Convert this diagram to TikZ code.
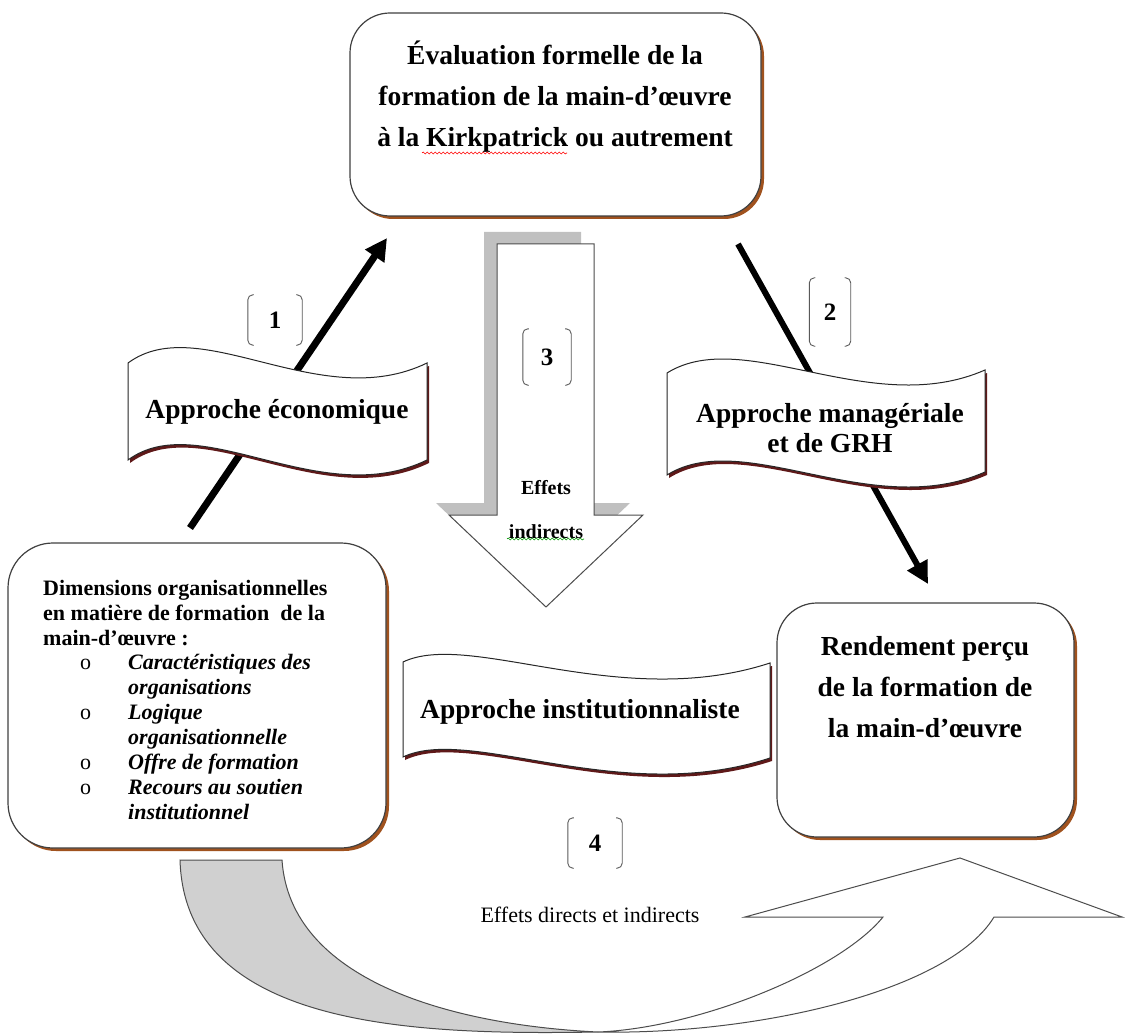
\documentclass[tikz,border=0pt]{standalone}
\usepackage{fontspec}
\setmainfont{Liberation Serif}
\usetikzlibrary{arrows.meta,positioning,shadows,decorations.pathmorphing}

\definecolor{boxshadow}{RGB}{160,82,30}
\definecolor{bannershadow}{RGB}{95,25,25}
\definecolor{arrowgray}{RGB}{192,192,192}
\definecolor{bandgray}{RGB}{208,208,208}

\tikzset{
  roundbox/.style={draw=black!75, line width=1.2pt, fill=white, rounded corners=40pt,
    drop shadow={shadow xshift=3pt, shadow yshift=-3pt, fill=boxshadow, opacity=1}},
  banner/.style={draw=black!85, line width=1pt, fill=white,
    drop shadow={shadow xshift=2pt, shadow yshift=-3pt, fill=bannershadow, opacity=1}},
  blockarrow/.style={draw=black!70, line width=1pt, fill=white},
  bigtxt/.style={font=\fontsize{27.5}{41}\selectfont\bfseries, align=center, inner sep=0pt},
  bantxt/.style={font=\fontsize{27.5}{30}\selectfont\bfseries, align=center, inner sep=0pt},
  listtxt/.style={font=\fontsize{22}{25}\selectfont\bfseries, align=left, inner sep=0pt},
  numtxt/.style={font=\fontsize{25}{25}\selectfont\bfseries, inner sep=0pt},
  bracketline/.style={draw=black!65, line width=0.9pt, rounded corners=5pt},
  fatarrow/.style={-{Triangle[length=22pt,width=22pt]}, black},
  spell/.style={decorate, decoration={snake, amplitude=1pt, segment length=4pt}, line width=0.6pt}
}

\begin{document}
\begin{tikzpicture}[x=1pt,y=-1pt]
\useasboundingbox (0,0) rectangle (1125,1035);

% the two thick arrows, under the banners
\coordinate (a1from) at (190,528);
\coordinate (a1to) at (387,238);
\coordinate (a2from) at (738,244);
\coordinate (a2to) at (928,584);
\draw[fatarrow, line width=7pt] (a1from) -- (a1to);
\draw[fatarrow, line width=6pt] (a2from) -- (a2to);

% banners
\draw[banner] (128,363) .. controls (200,310) and (320,415) .. (427,363)
  -- (427,460) .. controls (320,512) and (200,407) .. (128,460) -- cycle;
\node[bantxt] (eco) at (277,412) {Approche économique};

\draw[banner] (667,373) .. controls (744,325) and (871,420) .. (985,370)
  -- (985,472) .. controls (871,522) and (744,427) .. (667,475) -- cycle;
\node[bantxt] (man) at (830,428) {Approche managériale\\et de GRH};

\draw[banner] (403,662) .. controls (470,630) and (620,712) .. (770,663)
  -- (770,758) .. controls (620,807) and (470,725) .. (403,757) -- cycle;
\node[bantxt] (inst) at (580,712) {Approche institutionnaliste};

% down block arrow
\fill[arrowgray, shift={(-13,-12)}] (497,244) -- (594,244) -- (594,515) -- (643,515)
  -- (546,607) -- (449,515) -- (497,515) -- cycle;
\draw[blockarrow] (497,244) -- (594,244) -- (594,515) -- (643,515)
  -- (546,607) -- (449,515) -- (497,515) -- cycle;
\node[font=\fontsize{20}{44}\selectfont\bfseries, align=center, inner sep=0pt] (indir) at (546,510) {Effets\\indirects};
\draw[spell, green!60!black] (507,539) -- (584,539);

% boxes
\node[roundbox, minimum width=411pt, minimum height=203pt] (eval) at (555.5,114.5) {};
\node[bigtxt] (evaltxt) at (555,97) {Évaluation formelle de la\\formation de la main-d’œuvre\\à la Kirkpatrick ou autrement};
\draw[spell, red] (422,153) -- (567,153);

\node[roundbox, rounded corners=45pt, minimum width=378pt, minimum height=305pt] (dims) at (197,695.5) {};
\node[listtxt, anchor=north west] (dimhead) at (43,580) {Dimensions organisationnelles\\en matière de formation\ \ de la\\main-d’œuvre :};
\node[listtxt, anchor=north west] (dimlist) at (80,652) {%
  \begin{tabular}{@{}l@{\hspace{37pt}}l@{}}
  \textmd{o} & \textit{Caractéristiques des}\\
             & \textit{organisations}\\
  \textmd{o} & \textit{Logique}\\
             & \textit{organisationnelle}\\
  \textmd{o} & \textit{Offre de formation}\\
  \textmd{o} & \textit{Recours au soutien}\\
             & \textit{institutionnel}
  \end{tabular}};

\node[roundbox, minimum width=297pt, minimum height=234pt] (rend) at (925.5,720) {};
\node[bigtxt] (rendtxt) at (925,687) {Rendement perçu\\de la formation de\\la main-d’œuvre};

% U-turn arrow at the bottom
\draw[draw=black!70, line width=1pt, fill=bandgray] (180,860) .. controls (185,1030) and (420,1035) .. (598,1032)
  .. controls (450,1025) and (290,980) .. (282,860) -- cycle;
\draw[blockarrow] (598,1032) .. controls (700,1028) and (840,970) .. (883,917) -- (745,917) -- (960,858)
  -- (1122,917) -- (994,917) .. controls (950,990) and (760,1035) .. (598,1032) -- cycle;
\node[font=\fontsize{22}{22}\selectfont, inner sep=0pt] (direct) at (590,915) {Effets directs et indirects};

% numbered brackets
\node[numtxt, minimum width=54pt, minimum height=50pt] (n1) at (275,320) {1};
\node[numtxt, minimum width=41pt, minimum height=68pt] (n2) at (830,312) {2};
\node[numtxt, minimum width=48pt, minimum height=56pt] (n3) at (547,357) {3};
\node[numtxt, minimum width=54pt, minimum height=50pt] (n4) at (595,843) {4};
\foreach \n in {n1,n2,n3,n4} {
  \draw[bracketline] ([xshift=6pt]\n.north west) -- (\n.north west) -- (\n.south west) -- ([xshift=6pt]\n.south west);
  \draw[bracketline] ([xshift=-6pt]\n.north east) -- (\n.north east) -- (\n.south east) -- ([xshift=-6pt]\n.south east);
}
\end{tikzpicture}
\end{document}
